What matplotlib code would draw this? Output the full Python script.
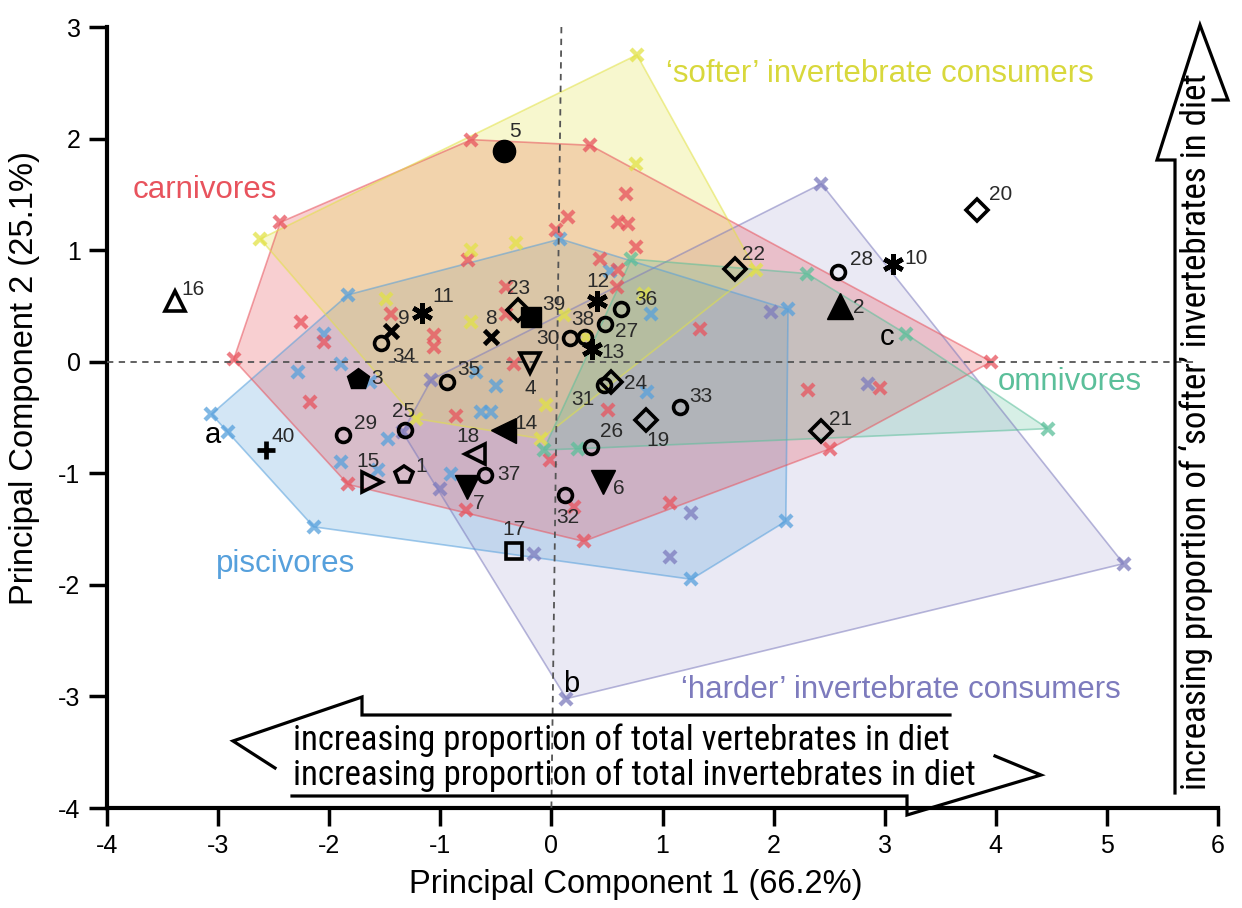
import matplotlib
matplotlib.use('Agg')
import matplotlib.pyplot as plt
from matplotlib.lines import Line2D
from matplotlib import font_manager as fm

# ---------------- data ----------------
carn_x = [-2.44, -2.25, -2.05, -1.44, -1.06, -1.06, -2.86, -2.17, -0.72, 0.35, 0.67, 0.15, 0.60, 0.69,
          0.76, 0.04, 0.44, 0.60, 0.59, -0.75, -0.41, -0.41, -0.34, 1.34, 3.96, 2.31, 2.96, 2.51,
          -0.86, -1.83, -0.77, 0.51, -0.01, 0.20, 1.07, 0.29]
carn_y = [1.25, 0.36, 0.18, 0.43, 0.24, 0.13, 0.02, -0.36, 1.99, 1.94, 1.50, 1.30, 1.25, 1.23,
          1.03, 1.18, 0.92, 0.82, 0.67, 0.91, 0.67, 0.43, -0.02, 0.29, 0.00, -0.25, -0.24, -0.78,
          -0.49, -1.10, -1.33, -0.43, -0.88, -1.30, -1.27, -1.61]

soft_x = [-2.62, 0.77, 0.76, -0.72, -0.32, -0.72, -1.49, 0.11, 0.31, 1.84, -0.05, -0.09, -1.22, 0.83]
soft_y = [1.10, 2.75, 1.77, 1.00, 1.06, 0.36, 0.56, 0.42, 0.22, 0.82, -0.39, -0.69, -0.51, 0.61]

omni_x = [0.72, 2.30, 3.19, 4.47, 0.24, -0.07]
omni_y = [0.92, 0.79, 0.25, -0.60, -0.78, -0.79]

pisc_x = [-3.06, -2.91, -1.83, 0.08, 2.13, 2.11, 1.26, -2.14, -2.28, -2.05, -1.89, -1.89, -1.47,
          -1.56, -0.90, -0.50, -0.63, -0.54, 0.53, 0.90, 0.86, -1.63, -0.68]
pisc_y = [-0.47, -0.63, 0.60, 1.10, 0.47, -1.43, -1.95, -1.48, -0.09, 0.25, -0.02, -0.90, -0.69,
          -0.97, -1.01, -0.22, -0.45, -0.45, 0.81, 0.43, -0.27, -0.18, -0.09]

hard_x = [2.43, 5.15, 0.135, -1.34, -1.08, -1.00, -0.16, 1.07, 1.26, 1.98, 2.85]
hard_y = [1.595, -1.81, -3.02, -0.63, -0.16, -1.14, -1.72, -1.75, -1.36, 0.45, -0.20]

fossil_id = list(range(1, 41))
fossil_x = [-1.323, 2.601, -1.737, -0.189, -0.423, 0.468, -0.756, -0.540, -1.440, 3.078,
            -1.161, 0.414, 0.369, -0.432, -1.611, -3.384, -0.333, -0.684, 0.855, 3.834,
            2.430, 1.656, -0.297, 0.540, -1.314, 0.360, 0.486, 2.583, -1.872, 0.171,
            0.477, 0.126, 1.161, -1.530, -0.936, 0.630, -0.594, 0.306, -0.180, -2.565]
fossil_y = [-1.013, 0.500, -0.152, -0.009, 1.891, -1.075, -1.120, 0.224, 0.278, 0.878,
            0.439, 0.547, 0.116, -0.609, -1.075, 0.547, -1.694, -0.824, -0.520, 1.362,
            -0.618, 0.833, 0.466, -0.179, -0.609, -0.762, 0.341, 0.806, -0.654, 0.215,
            -0.206, -1.192, -0.403, 0.170, -0.179, 0.475, -1.013, 0.224, 0.403, -0.789]

groups = [
    ("'harder' invertebrate consumers", hard_x, hard_y, '#7d7bbd', 0.16),
    ("piscivores", pisc_x, pisc_y, '#56a0dc', 0.26),
    ("carnivores", carn_x, carn_y, '#e8535d', 0.28),
    ("'softer' invertebrate consumers", soft_x, soft_y, '#e2e245', 0.26),
    ("omnivores", omni_x, omni_y, '#5bbf9a', 0.24),
]

# ---------------- styles ----------------
AST = (6, 2, 0)
fossil_style = {
    1: ('p', False, 13), 2: ('^', True, 19), 3: ('p', True, 16), 4: ('v', False, 14),
    5: ('o', True, 16), 6: ('v', True, 17), 7: ('v', True, 17), 8: ('x', False, 10),
    9: ('x', False, 10), 10: (AST, False, 15), 11: (AST, False, 15), 12: (AST, False, 15),
    13: (AST, False, 15), 14: ('<', True, 18), 15: ('>', False, 14), 16: ('^', False, 14),
    17: ('s', False, 11), 18: ('<', False, 14), 39: ('s', True, 14), 40: ('+', False, 13),
}
for k in range(19, 25):
    fossil_style[k] = ('D', False, 11)
for k in range(25, 39):
    fossil_style[k] = ('o', False, 10)

label_off = {
    1: (17, 8), 2: (18, -2), 3: (19, 0), 4: (0, -26), 5: (11, 19), 6: (15, -7), 7: (11, -17),
    8: (0, 18), 9: (12, 12), 10: (23, 5), 11: (21, 16), 12: (1, 19), 13: (21, -4), 14: (23, 6),
    15: (-4, 20), 16: (18, 11), 17: (0, 21), 18: (-7, 17), 19: (12, -21), 20: (23, 15),
    21: (19, 11), 22: (18, 14), 23: (0, 21), 24: (24, -2), 25: (-2, 18), 26: (20, 15),
    27: (21, -8), 28: (23, 12), 29: (22, 11), 30: (-22, -1), 31: (-22, -15), 32: (2, -23),
    33: (20, 10), 34: (22, -14), 35: (21, 12), 36: (24, 9), 37: (23, 0), 38: (-3, 17),
    39: (22, 12), 40: (17, 13),
}


def hull(xs, ys):
    pts = sorted(set(zip(xs, ys)))
    def cross(o, a, b):
        return (a[0] - o[0]) * (b[1] - o[1]) - (a[1] - o[1]) * (b[0] - o[0])
    lower, upper = [], []
    for p in pts:
        while len(lower) >= 2 and cross(lower[-2], lower[-1], p) <= 0:
            lower.pop()
        lower.append(p)
    for p in reversed(pts):
        while len(upper) >= 2 and cross(upper[-2], upper[-1], p) <= 0:
            upper.pop()
        upper.append(p)
    return lower[:-1] + upper[:-1]


def find_narrow_font():
    prefs = ['liberation sans narrow', 'arial narrow', 'roboto condensed', 'open sans condensed',
             'noto sans condensed', 'dejavu sans condensed']
    best, best_score = None, 99
    for f in fm.fontManager.ttflist:
        nm = f.name.lower()
        fn = f.fname.lower()
        narrow = ('narrow' in nm or 'condensed' in nm or 'narrow' in fn or 'condensed' in fn
                  or str(f.stretch) in ('condensed', 'semi-condensed', 'extra-condensed', '500', '600'))
        if not narrow or f.style != 'normal':
            continue
        w = f.weight
        try:
            w = int(w)
        except Exception:
            w = 400 if str(w) in ('normal', 'regular', 'book') else 700
        if w != 400:
            continue
        if 'mono' in nm or 'serif' in nm and 'sans' not in nm:
            continue
        score = 50
        for i, p in enumerate(prefs):
            if p in nm or p.replace(' ', '') in fn.replace('-', '').replace('_', ''):
                score = i
                break
        if 'dejavusanscondensed' in fn.replace('-', '') and score == 50:
            score = 5
        if score < best_score:
            best, best_score = f, score
    if best is None:
        return None
    return best.fname


plt.rcParams['font.family'] = ['Liberation Sans', 'DejaVu Sans']
narrow_file = find_narrow_font()

W, H = 1242, 908
fig = plt.figure(figsize=(W / 100, H / 100), dpi=100)
ax = fig.add_axes([107 / W, 100 / H, 1111 / W, 781 / H])
ax.set_xlim(-4, 6)
ax.set_ylim(-4, 3)

for name, xs, ys, col, a in groups:
    hp = hull(xs, ys)
    ax.fill([p[0] for p in hp], [p[1] for p in hp], facecolor=col, alpha=a,
            edgecolor='none', zorder=1)
    ax.fill([p[0] for p in hp], [p[1] for p in hp], facecolor='none',
            edgecolor=col, alpha=0.55, lw=1.2, zorder=1.2)

for name, xs, ys, col, a in groups:
    ax.plot(xs, ys, ls='none', marker='x', ms=9.2, mew=3.1, color=col, alpha=0.75, zorder=2)

# zero lines
ax.plot([-4, 5.82], [0, 0], ls=(0, (3.5, 3)), color='#555555', lw=1.3, zorder=3)
ax.plot([0.09, 0.0], [3.0, -4.0], ls=(0, (3.5, 3)), color='#555555', lw=1.3, zorder=3)

for i, x, y in zip(fossil_id, fossil_x, fossil_y):
    m, filled, ms = fossil_style[i]
    if m in ('x', '+') or m == AST:
        ax.plot([x], [y], marker=m, ms=ms, mew=3.4, color='black', ls='none', zorder=5)
    elif filled:
        ax.plot([x], [y], marker=m, ms=ms, mfc='black', mec='black', mew=1, ls='none', zorder=5)
    else:
        ax.plot([x], [y], marker=m, ms=ms, mfc='none', mec='black', mew=2.6, ls='none', zorder=5)
    dx, dy = label_off[i]
    ax.annotate(str(i), (x, y), xytext=(dx, dy), textcoords='offset pixels',
                ha='center', va='center', fontsize=15, color='#2a2a2a', zorder=6)

# group labels
ax.text(-3.77, 1.54, 'carnivores', color='#e8535d', fontsize=22.5, va='center', ha='left')
ax.text(1.03, 2.58, '\u2018softer\u2019 invertebrate consumers', color='#d8d83c', fontsize=22.5,
        va='center', ha='left')
ax.text(4.02, -0.18, 'omnivores', color='#5bbf9a', fontsize=22.5, va='center', ha='left')
ax.text(-3.02, -1.81, 'piscivores', color='#56a0dc', fontsize=22.5, va='center', ha='left')
ax.text(1.17, -2.94, '\u2018harder\u2019 invertebrate consumers', color='#7d7bbd', fontsize=22.5,
        va='center', ha='left')
ax.text(-3.05, -0.66, 'a', fontsize=21, ha='center', va='center')
ax.text(0.18, -2.89, 'b', fontsize=21, ha='center', va='center')
ax.text(3.02, 0.22, 'c', fontsize=21, ha='center', va='center')

# axes styling
for s in ('top', 'right'):
    ax.spines[s].set_visible(False)
for s in ('left', 'bottom'):
    ax.spines[s].set_linewidth(3.0)
ax.set_xticks(range(-4, 7))
ax.set_yticks(range(-4, 4))
ax.tick_params(length=13, width=2.5, labelsize=18, pad=6)
ax.set_xticklabels([str(v) for v in range(-4, 7)])
ax.set_yticklabels([str(v) for v in range(-4, 4)])


def P(x, y):
    return (x / W, 1 - y / H)


def poly(pts):
    xs = [P(*p)[0] for p in pts]
    ys = [P(*p)[1] for p in pts]
    fig.add_artist(Line2D(xs, ys, transform=fig.transFigure, color='black', lw=2.3,
                          solid_joinstyle='miter', zorder=10))


poly([(950, 715), (362, 715), (362, 697), (233, 741), (275, 768)])
poly([(292, 796), (907, 796), (907, 815), (1041, 775), (995, 756)])
poly([(1175, 793), (1175, 160), (1157, 160), (1200, 25), (1228, 100), (1213, 100)])


def fitted_text(xy, s, target_px, rotation=0, ha='left'):
    if narrow_file:
        fp = fm.FontProperties(fname=narrow_file, size=27)
    else:
        fp = fm.FontProperties(family=['Liberation Sans', 'DejaVu Sans'], size=27)
    t = fig.text(*P(*xy), s, fontproperties=fp, ha=ha, va='center', rotation=rotation)
    fig.canvas.draw()
    bb = t.get_window_extent()
    length = bb.height if rotation else bb.width
    fp2 = fp.copy()
    fp2.set_size(27 * target_px / length)
    t.set_fontproperties(fp2)
    return t


fitted_text((293, 740), 'increasing proportion of total vertebrates in diet', 655)
fitted_text((293, 775), 'increasing proportion of total invertebrates in diet', 682)
fitted_text((1196, 432), 'increasing proportion of \u2018softer\u2019 invertebrates in diet', 715,
            rotation=90, ha='center')

fig.text(*P(636, 885), 'Principal Component 1 (66.2%)', fontsize=23.5, ha='center', va='center')
fig.text(*P(25, 378), 'Principal Component 2 (25.1%)', fontsize=23.5, ha='center', va='center',
         rotation=90)

fig.savefig('out.png', dpi=100)
